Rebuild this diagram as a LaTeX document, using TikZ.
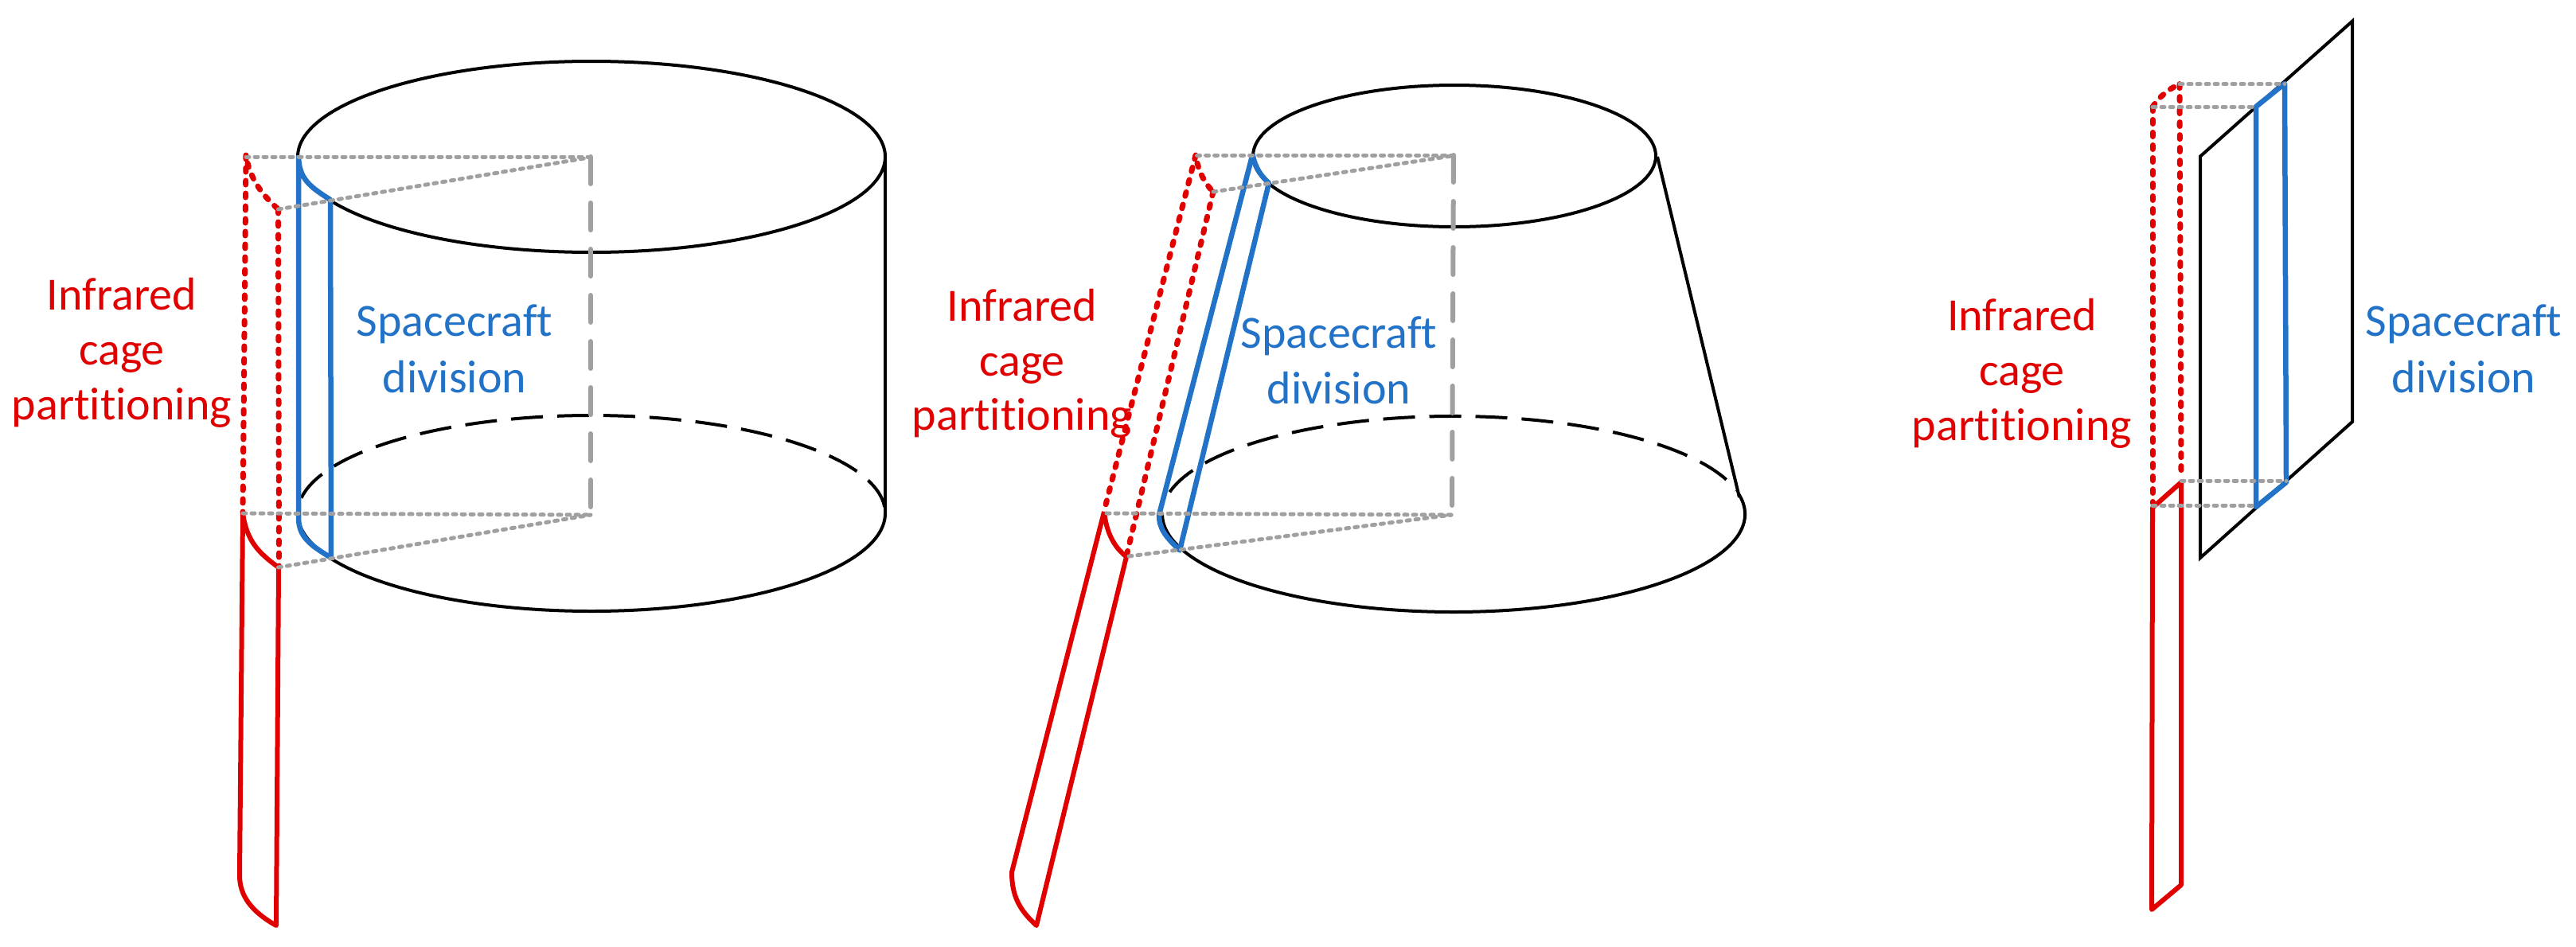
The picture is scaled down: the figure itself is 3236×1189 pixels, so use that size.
\documentclass[tikz,border=0pt]{standalone}
\usepackage{fontspec}
\setmainfont[Ligatures=NoCommon]{Carlito}
\definecolor{cred}{HTML}{E00000}
\definecolor{cblue}{HTML}{2272C8}
\definecolor{cgray}{HTML}{A0A0A0}
\tikzset{
 outline/.style={black,line width=4pt},
 hiddenline/.style={black,line width=4pt,dash pattern=on 40pt off 18pt},
 blueline/.style={cblue,line width=6.5pt,line join=round},
 redline/.style={cred,line width=6pt,line join=round},
 reddot/.style={cred,line width=7pt,line cap=round,dash pattern=on 5pt off 11pt},
 graydot/.style={cgray,line width=5pt,line cap=round,dash pattern=on 4pt off 7pt},
 graydash/.style={cgray,line width=6pt,line cap=round,dash pattern=on 34pt off 24pt},
 redtext/.style={cred,font=\fontsize{58}{69}\selectfont,align=center,anchor=base,inner sep=0pt},
 bluetext/.style={cblue,font=\fontsize{58}{69}\selectfont,align=center,anchor=base,inner sep=0pt},
}
\begin{document}
\begin{tikzpicture}[x=1pt,y=-1pt]
\useasboundingbox (0,0) rectangle (3236,1189);
\fill[white] (0,0) rectangle (3236,1189);
% ---------- panel 1
\draw[outline] (743,197) ellipse [x radius=369,y radius=120];
\draw[outline] (374,645) arc [start angle=180,end angle=0,x radius=369,y radius=123];
\draw[hiddenline] (743,645) ++(171:369 and -123) arc [start angle=171,end angle=0,x radius=369,y radius=-123];
\draw[outline] (1112,197) -- (1112,645);
\draw[graydash] (742,197) -- (742,646);
\node[redtext] (a1) at (153,389) {Infrared};
\node[redtext] (a2) at (153,458) {cage};
\node[redtext] (a3) at (153,527) {partitioning};
\node[bluetext] (a4) at (571,422) {Spacecraft};
\node[bluetext] (a5) at (571,493) {division};
\draw[blueline] (375,195) -- (375,650) .. controls (375,675) and (390,685) .. (416,701) -- (415,251) .. controls (390,235) and (375,225) .. (375,195);
\draw[reddot] (309,195) -- (305,644);
\draw[reddot] (349.5,263) -- (350.5,712);
\draw[reddot] (311,205) .. controls (318,230) and (330,245) .. (349.5,263);
\draw[redline] (305,645) -- (301,1100) .. controls (301,1125) and (315,1145) .. (347,1163) -- (350,713) .. controls (325,695) and (310,680) .. (305,645);
\draw[graydot] (309,197) -- (742,197);
\draw[graydot] (349.5,263) -- (740,198);
\draw[graydot] (305,645) -- (742,647);
\draw[graydot] (349.5,713) -- (742,647);
% ---------- panel 2
\draw[outline] (1827,196) ellipse [x radius=253,y radius=89];
\draw[outline] (1826,646) ++(-12:366 and 123) arc [start angle=-12,end angle=180,x radius=366,y radius=123];
\draw[hiddenline] (1826,646) ++(167:366 and -123) arc [start angle=167,end angle=14,x radius=366,y radius=-123];
\draw[outline] (2082,197) -- (2185,625);
\draw[graydash] (1826,195) -- (1824,646);
\node[redtext] (b1) at (1284,403) {Infrared};
\node[redtext] (b2) at (1284,472) {cage};
\node[redtext] (b3) at (1284,540) {partitioning};
\node[bluetext] (b4) at (1682,437) {Spacecraft};
\node[bluetext] (b5) at (1682,507) {division};
\draw[blueline] (1573.5,194) -- (1456,647) .. controls (1456,665) and (1465,675) .. (1482,691.5) -- (1594,230) .. controls (1585,222) and (1577,212) .. (1573.5,194);
\draw[reddot] (1502,195) -- (1387,642);
\draw[reddot] (1524,241) -- (1415,699);
\draw[reddot] (1504,205) .. controls (1508,220) and (1515,232) .. (1524,241);
\draw[redline] (1387,643) -- (1271,1096) .. controls (1271,1125) and (1280,1143) .. (1302,1163) -- (1415,699.5) .. controls (1400,688) and (1390,670) .. (1387,643);
\draw[graydot] (1503.6,195) -- (1826,195);
\draw[graydot] (1524,241) -- (1823.5,196);
\draw[graydot] (1390,645) -- (1823,647);
\draw[graydot] (1418,699) -- (1823,647);
% ---------- panel 3
\draw[outline,line join=miter] (2764,196.5) -- (2955,26.6) -- (2955,530) -- (2764,701) -- cycle;
\node[redtext] (c1) at (2540,415) {Infrared};
\node[redtext] (c2) at (2540,484) {cage};
\node[redtext] (c3) at (2540,553) {partitioning};
\node[bluetext] (c4) at (3095,422) {Spacecraft};
\node[bluetext] (c5) at (3095,493) {division};
\draw[blueline] (2834,134) -- (2870,105) -- (2872,606) -- (2834,637) -- cycle;
\draw[reddot] (2704,134.5) -- (2704,632);
\draw[reddot] (2738,105.6) -- (2740,600);
\draw[reddot] (2704,134.5) .. controls (2712,122) and (2724,112) .. (2738,105.6);
\draw[redline] (2704,638) -- (2740,606) -- (2740,1112) -- (2703,1143) -- cycle;
\draw[graydot] (2738,105.6) -- (2870,105.6);
\draw[graydot] (2704,134.5) -- (2834,134.5);
\draw[graydot] (2740,604) -- (2872,604);
\draw[graydot] (2704,635) -- (2834,635);
\end{tikzpicture}
\end{document}
